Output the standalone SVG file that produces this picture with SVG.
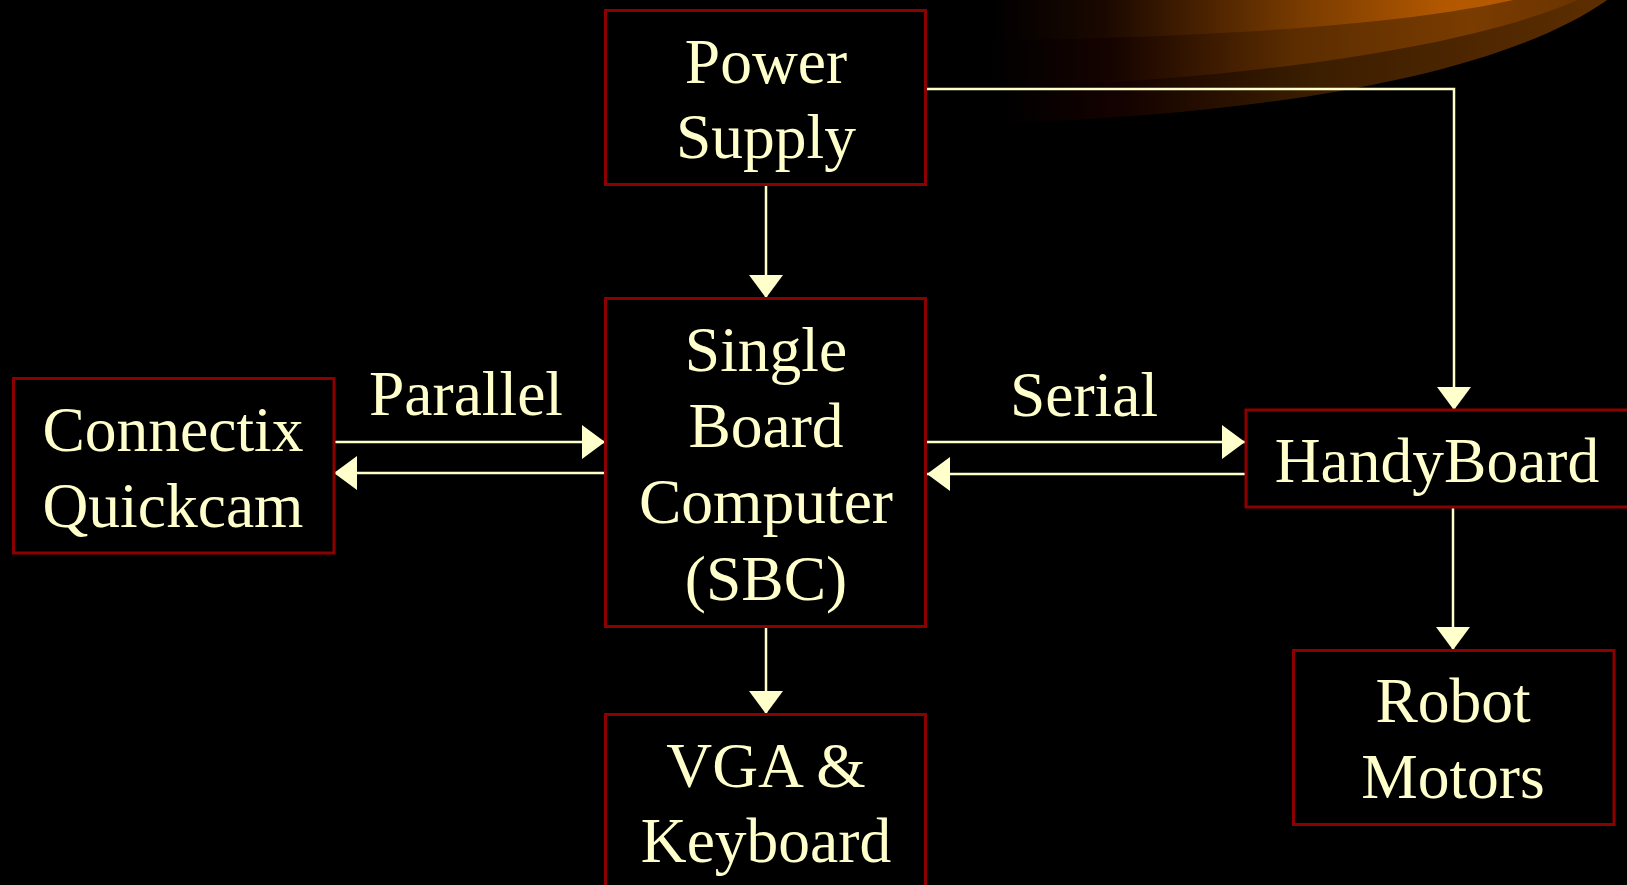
<svg xmlns="http://www.w3.org/2000/svg" width="1627" height="885" viewBox="0 0 1627 885">
<style>
.box{fill:#000;stroke:#8B0000;stroke-width:3}
.lbl{font-family:"Liberation Serif","Times New Roman",serif;font-size:63.5px;fill:#FFFFCC;text-anchor:middle}
.wire{fill:none;stroke:#FFFFCC;stroke-width:2.5}
</style>
<defs>
<marker id="ah" markerUnits="userSpaceOnUse" markerWidth="23" markerHeight="34" refX="23" refY="17" orient="auto">
<path d="M0,0 L23,17 L0,34 Z" fill="#FFFFCC"/>
</marker>
<linearGradient id="gA" gradientUnits="userSpaceOnUse" x1="990" y1="0" x2="1560" y2="0">
<stop offset="0" stop-color="#000"/>
<stop offset="0.2" stop-color="#1a0800"/>
<stop offset="0.55" stop-color="#7a3c00"/>
<stop offset="0.8" stop-color="#b35800"/>
<stop offset="1" stop-color="#b85c00"/>
</linearGradient>
<linearGradient id="gB" gradientUnits="userSpaceOnUse" x1="990" y1="0" x2="1590" y2="0">
<stop offset="0" stop-color="#000"/>
<stop offset="0.2" stop-color="#150300"/>
<stop offset="0.5" stop-color="#5a2c00"/>
<stop offset="0.8" stop-color="#7a3c00"/>
<stop offset="1" stop-color="#6a3400"/>
</linearGradient>
<linearGradient id="gC" gradientUnits="userSpaceOnUse" x1="1000" y1="0" x2="1610" y2="0">
<stop offset="0" stop-color="#000"/>
<stop offset="0.2" stop-color="#140200"/>
<stop offset="0.5" stop-color="#3a1d00"/>
<stop offset="1" stop-color="#5e2e00"/>
</linearGradient>
</defs>
<rect x="0" y="0" width="1627" height="885" fill="#000"/>
<g id="swoosh">
<path d="M960,-2 L960,124 C1250,118 1500,78 1610,-2 Z" fill="url(#gC)"/>
<path d="M960,-2 L960,89 C1250,82 1480,45 1582,-2 Z" fill="url(#gB)"/>
<path d="M960,-2 L960,41 C1250,37 1420,22 1522,-2 Z" fill="url(#gA)"/>
</g>
<g id="connectors">
<path class="wire" d="M766,185 L766,298" marker-end="url(#ah)"/>
<path class="wire" d="M926,89 L1454,89 L1454,410" marker-end="url(#ah)"/>
<path class="wire" d="M334,442 L605,442" marker-end="url(#ah)"/>
<path class="wire" d="M605,473 L334,473" marker-end="url(#ah)"/>
<path class="wire" d="M927,442 L1245,442" marker-end="url(#ah)"/>
<path class="wire" d="M1245,474 L927,474" marker-end="url(#ah)"/>
<path class="wire" d="M766,627 L766,714" marker-end="url(#ah)"/>
<path class="wire" d="M1453,507 L1453,650" marker-end="url(#ah)"/>
<text class="lbl" x="466" y="415">Parallel</text>
<text class="lbl" x="1084" y="416">Serial</text>
</g>
<g id="power">
<rect class="box" x="605.5" y="10.5" width="320" height="174"/>
<text class="lbl" x="766" y="83">Power</text>
<text class="lbl" x="766" y="158">Supply</text>
</g>
<g id="sbc">
<rect class="box" x="605.5" y="298.5" width="320" height="328"/>
<text class="lbl" x="766" y="371">Single</text>
<text class="lbl" x="766" y="447">Board</text>
<text class="lbl" x="766" y="523">Computer</text>
<text class="lbl" x="766" y="600">(SBC)</text>
</g>
<g id="quickcam">
<rect class="box" x="13.5" y="378.5" width="320.5" height="174.5"/>
<text class="lbl" x="173" y="451">Connectix</text>
<text class="lbl" x="173" y="527">Quickcam</text>
</g>
<g id="handyboard">
<rect class="box" x="1246" y="410" width="420" height="97"/>
<text class="lbl" x="1437" y="482">HandyBoard</text>
</g>
<g id="motors">
<rect class="box" x="1293.5" y="650.5" width="320.5" height="174"/>
<text class="lbl" x="1453" y="722">Robot</text>
<text class="lbl" x="1453" y="798">Motors</text>
</g>
<g id="vga">
<rect class="box" x="605.5" y="714.5" width="320" height="200"/>
<text class="lbl" x="766" y="787">VGA &amp;</text>
<text class="lbl" x="766" y="862">Keyboard</text>
</g>
</svg>
